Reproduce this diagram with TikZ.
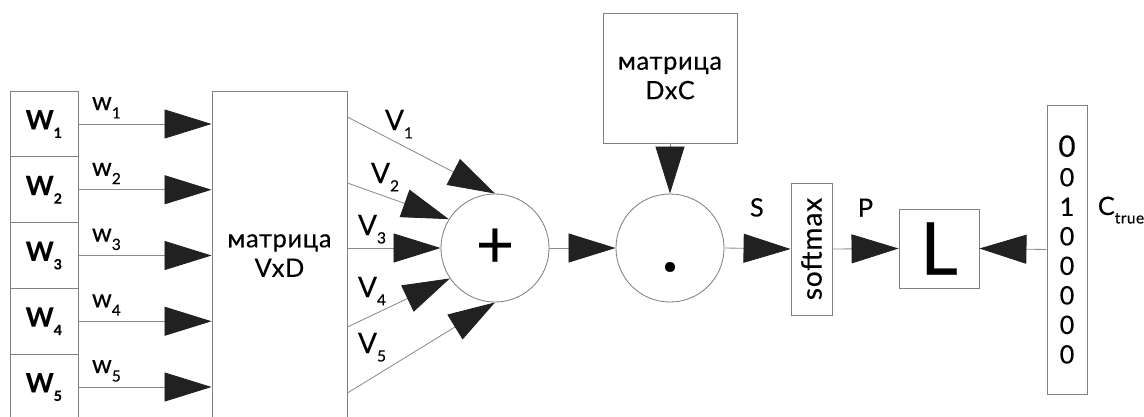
\documentclass[tikz,border=0pt]{standalone}
\usepackage{fontspec}
\setmainfont{Lato}[LetterSpace=3, FakeBold=0.3]
\usetikzlibrary{arrows.meta}
\tikzset{
    x=0.025cm, y=-0.025cm, % one unit = one pixel, y downwards
    >={Triangle[length=1.175cm, width=0.725cm, color=black!87]}, % Default arrow tip
    box/.style={draw=black!50, line width=0.6pt, inner sep=0pt, align=center},
    link/.style={draw=black!45, line width=0.6pt},
    lbl/.style={inner sep=0pt}
}
\newcommand{\lowsub}[2][11]{\raisebox{-6pt}{\fontsize{#1}{#1}\selectfont #2}}
\def\h{65.75}

\begin{document}
\begin{tikzpicture}[font=\fontsize{18}{21}\selectfont]
    \useasboundingbox (0,0) rectangle (1144,416);

    % words of the context
    \foreach \i in {1,...,5}
        \node[box, minimum width=1.7cm, minimum height=1.644cm] (w\i) at (44, 124+\h*\i-\h)
            {\fontsize{19}{20}\selectfont\textbf{W\lowsub[10]{\textbf{\i}}}};

    \draw
        node[box, minimum width=3.375cm, minimum height=8.225cm] (vxd) at (279.5, 255.5) {матрица\\VxD}
        node[box, circle, minimum size=2.7cm] (plus) at (495, 248) {\fontsize{47}{47}\selectfont +}
        node[box, circle, minimum size=2.7cm] (dot) at (670, 248) {\fontsize{46}{46}\selectfont\bfseries\vphantom{0}.}
        node[box, minimum width=3.35cm, minimum height=3.25cm] (dxc) at (670, 78) {матрица\\DxC}
        node[box, rotate=90, minimum width=3.3cm, minimum height=1.025cm] (soft) at (811.5, 249)
            {\fontsize{20}{20}\selectfont softmax}
        node[box, minimum width=2cm, minimum height=1.975cm] (loss) at (939, 248.5)
            {\fontsize{52}{52}\selectfont L}
        node[box, minimum width=1cm, minimum height=7.225cm] (ctrue) at (1067, 249.5)
            {\fontsize{21}{22.7}\selectfont 0\\0\\1\\0\\0\\0\\0\\0}
    ;

    % one-hot inputs
    \foreach \i in {1,...,5}
        \draw
            [link, ->]
            (w\i.east) -- (w\i.east -| vxd.west)
            node[lbl, pos=0.21, anchor=base, yshift=0.35cm] (lw\i) {w\lowsub{\i}}
        ;

    % embeddings to the sum
    \foreach \i/\ya/\tip/\lx/\ly in {1/117/north/399/130, 2/183/148/385/183,
            3/248/west/372/235, 4/327/214/372/297, 5/393/south/372/353}
    {
        \draw
            [link, ->]
            (vxd.east |- 0,\ya) -- (plus.\tip)
        ;
        \node[lbl, anchor=base, font=\fontsize{20}{21}\selectfont] (lv\i) at (\lx, \ly) {V\lowsub{\i}};
    }

    \draw
        [link, ->]
        (plus.east) -- (dot.west)
    ;
    \draw
        [link, ->]
        (dxc.south) -- (dot.north)
    ;
    \draw
        [link, ->]
        (dot.east) -- (soft.north)
        node[lbl, pos=0.49, anchor=base, yshift=0.8cm] (ls) {S}
    ;
    \draw
        [link, ->]
        (soft.south) -- (loss.west)
        node[lbl, pos=0.5, anchor=base, yshift=0.8cm] (lp) {P}
    ;
    \draw
        [link, ->]
        (ctrue.west) -- (loss.east)
    ;
    \node[lbl, anchor=base] (lc) at (1121, 215) {C\lowsub{true}};
\end{tikzpicture}
\end{document}
